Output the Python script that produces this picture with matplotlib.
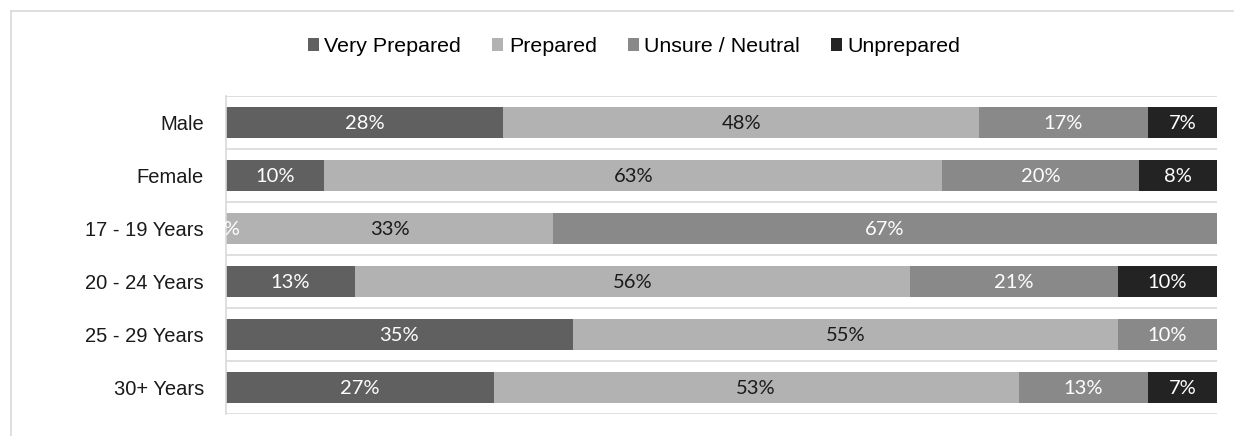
import matplotlib.pyplot as plt
import numpy as np
from matplotlib.lines import Line2D

# Datos de la encuesta (porcentajes por grupo).
categories = ["Male", "Female", "17 - 19 Years", "20 - 24 Years", "25 - 29 Years", "30+ Years"]
very_prepared = [28, 10, 0, 13, 35, 27]
prepared = [48, 63, 33, 56, 55, 53]
unsure = [17, 20, 67, 21, 10, 13]
unprepared = [7, 8, np.nan, 10, np.nan, 7]

series_names = ["Very Prepared", "Prepared", "Unsure / Neutral", "Unprepared"]
series_colors = ["#606060", "#b2b2b2", "#898989", "#232323"]
label_colors = ["white", "#1a1a1a", "white", "white"]

W, H = 1234, 436
fig = plt.figure(figsize=(W / 100, H / 100), dpi=100)
fig.patch.set_facecolor("white")

# Área de trazado.
ax = fig.add_axes([226 / W, 1 - 414 / H, (1217 - 226) / W, (414 - 96) / H])

data = np.array([very_prepared, prepared, unsure, unprepared], dtype=float)
totals = np.nansum(data, axis=0)
y = np.arange(len(categories))
left = np.zeros(len(categories))

for vals, name, color, tcolor in zip(data, series_names, series_colors, label_colors):
    share = np.nan_to_num(vals) / totals * 100
    ax.barh(y, share, left=left, height=0.57, color=color, label=name, zorder=2)
    for i, v in enumerate(vals):
        if np.isnan(v):
            continue
        ax.text(left[i] + share[i] / 2, y[i] + 0.02, f"{v:.0f}%", ha="center", va="center",
                color=tcolor, fontsize=14.5, family="Lato", zorder=3)
    left += share

ax.set_xlim(0, 100)
ax.set_ylim(len(categories) - 0.5, -0.5)

# Líneas de separación entre categorías.
for b in np.arange(-0.5, len(categories)):
    ax.axhline(b, color="#d9d9d9", lw=1.2, zorder=1)

for s in ["top", "right", "bottom"]:
    ax.spines[s].set_visible(False)
ax.spines["left"].set_color("#d9d9d9")
ax.spines["left"].set_linewidth(1.2)

ax.set_xticks([])
ax.set_yticks(y)
ax.set_yticklabels(categories, fontsize=14.5, family="Liberation Sans", color="#1a1a1a")
ax.tick_params(axis="y", length=0, pad=16)

# Leyenda superior.
fig.legend(loc="center", bbox_to_anchor=(0.514, 0.893), ncol=4, frameon=False,
           prop={"family": "Liberation Sans", "size": 15.4},
           handlelength=0.52, handleheight=0.52, handletextpad=0.25, columnspacing=1.45)

# Marco exterior del gráfico.
fig.add_artist(Line2D([11 / W, 1.0], [1 - 11 / H] * 2, transform=fig.transFigure,
                      color="#d9d9d9", lw=1.2))
fig.add_artist(Line2D([11 / W] * 2, [0.0, 1 - 11 / H], transform=fig.transFigure,
                      color="#d9d9d9", lw=1.2))

fig.savefig("out.png", dpi=100)
